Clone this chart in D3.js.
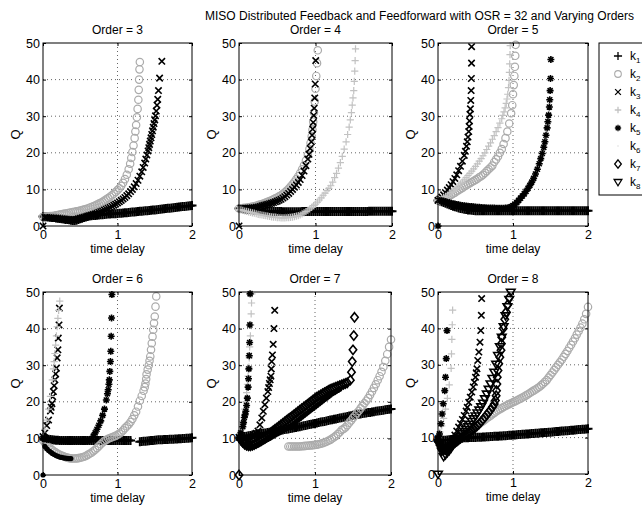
<!DOCTYPE html>
<html>
<head>
<meta charset="utf-8">
<script src="https://cdn.jsdelivr.net/npm/d3@7"></script>
<style>
  body { margin: 0; background: #fff; }
  svg { display: block; }
</style>
</head>
<body>
<svg id="fig" width="642" height="506"></svg>
<script>
// ---------------------------------------------------------------------------
// Data: optimal gains Q versus time delay, one group per modulator order.
// Each gain series is a list of Q values on the shared time grid (null = no
// point), optionally followed by extra [t, Q] points where the curve blows up.
// ---------------------------------------------------------------------------
const tGrid = [
  0, 0.025, 0.05, 0.075, 0.1, 0.125, 0.15, 0.175, 0.2, 0.225,
  0.25, 0.275, 0.3, 0.325, 0.35, 0.375, 0.4, 0.425, 0.45, 0.475,
  0.5, 0.525, 0.55, 0.575, 0.6, 0.625, 0.65, 0.675, 0.7, 0.725,
  0.75, 0.775, 0.8, 0.825, 0.85, 0.875, 0.9, 0.925, 0.95, 0.975,
  1, 1.025, 1.05, 1.075, 1.1, 1.125, 1.15, 1.175, 1.2, 1.225,
  1.25, 1.275, 1.3, 1.325, 1.35, 1.375, 1.4, 1.425, 1.45, 1.475,
  1.5, 1.525, 1.55, 1.575, 1.6, 1.625, 1.65, 1.675, 1.7, 1.725,
  1.75, 1.775, 1.8, 1.825, 1.85, 1.875, 1.9, 1.925, 1.95, 1.975,
  2
];

const xTicks = [0, 1, 2];
const yTicks = [0, 10, 20, 30, 40, 50];
const orders = [3, 4, 5, 6, 7, 8];
const gainNames = ["k1", "k2", "k3", "k4", "k5", "k6", "k7", "k8"];
const mainTitle = "MISO Distributed Feedback and Feedforward with OSR = 32 and Varying Orders";
const xLabel = "time delay";
const yLabel = "Q";

// ----- Order 3 -----
const o3_k1 = [
  2.6,2.55,2.5,2.45,2.4,2.35,2.3,2.2,2.1,2.05,
  2.0,1.9,1.8,1.75,1.7,1.6,1.5,1.5,1.6,1.8,
  2.0,2.15,2.3,2.45,2.6,2.7,2.8,2.85,2.9,2.95,
  3.0,3.05,3.1,3.15,3.2,3.25,3.3,3.32,3.35,3.38,
  3.4,3.45,3.5,3.55,3.6,3.65,3.7,3.75,3.8,3.85,
  3.9,3.95,4.0,4.05,4.1,4.15,4.2,4.25,4.3,4.35,
  4.4,4.46,4.52,4.58,4.64,4.7,4.76,4.82,4.88,4.94,
  5.0,5.06,5.12,5.18,5.24,5.3,5.36,5.42,5.48,5.54,
  5.6];
const o3_k2 = [
  2.5,2.55,2.6,2.65,2.7,2.75,2.8,2.9,3.0,3.1,
  3.2,3.3,3.4,3.5,3.6,3.7,3.8,3.9,4.0,4.1,
  4.2,4.35,4.5,4.65,4.8,5.0,5.2,5.4,5.6,5.85,
  6.1,6.35,6.6,6.95,7.3,7.65,8.0,8.4,8.8,9.3,
  9.8,10.3,11.0,11.8,12.8,14.0,15.5];
const o3_k2_tail = [[1.17,17],[1.185,18.6],[1.2,20.2],[1.215,22],[1.23,24],[1.24,25.8],[1.25,27.6],[1.26,29.7],[1.27,32],[1.28,34.5],[1.285,37.2],[1.29,40],[1.295,42.8],[1.3,44.8]];
const o3_k3 = [
  0,2.35,2.3,2.28,2.25,2.2,2.15,2.1,2.05,2.0,
  1.95,1.9,1.85,1.8,1.75,1.72,1.7,1.72,1.8,1.95,
  2.1,2.25,2.4,2.55,2.7,2.85,3.0,3.15,3.3,3.5,
  3.7,3.9,4.1,4.35,4.6,4.85,5.1,5.4,5.7,6.0,
  6.3,6.65,7.0,7.4,7.8,8.3,8.8,9.4,10.0,10.7,
  11.6,12.5,13.6,14.8];
const o3_k3_tail = [[1.345,16],[1.365,17.2],[1.38,18.3],[1.395,19.4],[1.41,20.5],[1.42,21.4],[1.43,22.3],[1.44,23.2],[1.45,24.1],[1.46,25],[1.47,26],[1.48,27],[1.49,28],[1.5,29],[1.51,30.1],[1.52,31.4],[1.53,33],[1.54,34.6],[1.55,37],[1.565,40.4],[1.595,45]];

// ----- Order 4 -----
const o4_k1 = [
  4.8,4.75,4.7,4.65,4.6,4.55,4.5,4.45,4.4,4.35,
  4.3,4.25,4.2,4.15,4.1,4.06,4.03,4.0,3.98,3.96,
  3.95,3.94,3.93,3.92,3.92,3.92,3.92,3.92,3.92,3.92,
  3.92,3.92,3.92,3.93,3.93,3.93,3.93,3.93,3.94,3.94,
  3.94,3.94,3.94,3.95,3.95,3.95,3.95,3.95,3.96,3.96,
  3.96,3.96,3.96,3.97,3.97,3.97,3.97,3.97,3.98,3.98,
  3.98,3.98,3.98,3.99,3.99,3.99,3.99,3.99,4.0,4.0,
  4.0,4.0,4.0,4.01,4.01,4.01,4.01,4.01,4.02,4.02,
  4.02];
const o4_k2 = [
  4.8,4.85,4.9,4.95,5.0,5.1,5.2,5.3,5.4,5.55,
  5.7,5.85,6.0,6.2,6.4,6.6,6.8,7.05,7.3,7.55,
  7.8,8.1,8.4,8.8,9.2,9.7,10.2,10.8,11.4,12.1,
  12.8,13.6,14.5,15.5,16.6,17.9,19.4];
const o4_k2_tail = [[0.92,21],[0.935,22.7],[0.95,24.5],[0.96,26.3],[0.97,28.5],[0.98,31],[0.99,34],[1.0,37.5],[1.01,41],[1.02,44.5],[1.03,48]];
const o4_k3 = [
  0,4.8,4.8,4.82,4.85,4.88,4.9,4.95,5.0,5.1,
  5.2,5.35,5.5,5.65,5.8,5.95,6.1,6.25,6.4,6.6,
  6.8,7.05,7.3,7.65,8.0,8.45,8.9,9.45,10.0,10.6,
  11.2,11.9,12.7,13.8,15.0,16.5,18.3];
const o4_k3_tail = [[0.915,19.6],[0.93,21.2],[0.945,23],[0.955,24.8],[0.963,26.5],[0.97,28.3],[0.977,30.2],[0.983,32.2],[0.99,35],[0.996,38.8],[1.003,45.2]];
const o4_k4 = [
  4.5,4.4,4.25,4.1,4.0,3.85,3.7,3.6,3.5,3.35,
  3.2,3.1,3.0,2.9,2.8,2.7,2.6,2.5,2.45,2.4,
  2.3,2.25,2.2,2.2,2.2,2.25,2.3,2.35,2.4,2.55,
  2.7,2.85,3.0,3.3,3.6,3.95,4.3,4.7,5.1,5.55,
  6.0,6.5,7.1,7.7,8.4,9.0,9.7,10.3,11.0,12.0,
  13.2,14.4,15.8,17.3,19.0];
const o4_k4_tail = [[1.375,21],[1.4,23],[1.42,25],[1.44,27],[1.455,29],[1.47,31],[1.48,33],[1.49,35],[1.5,37],[1.507,39.5],[1.513,42.3],[1.518,45.2],[1.523,48.4]];

// ----- Order 5 -----
const o5_k1 = [
  7.0,6.8,6.6,6.4,6.2,6.0,5.8,5.6,5.4,5.25,
  5.1,4.95,4.8,4.7,4.6,4.5,4.4,4.35,4.3,4.25,
  4.2,4.2,4.2,4.2,4.2,4.2,4.2,4.2,4.2,4.2,
  4.2,4.2,4.2,4.2,4.2,4.2,4.2,4.2,4.2,4.2,
  4.2,4.2,4.2,4.2,4.2,4.2,4.2,4.2,4.2,4.2,
  4.2,4.2,4.2,4.2,4.2,4.2,4.2,4.2,4.2,4.2,
  4.2,4.2,4.2,4.2,4.2,4.2,4.2,4.2,4.2,4.2,
  4.2,4.2,4.2,4.2,4.2,4.2,4.2,4.2,4.2,4.2,
  4.2];
const o5_k2 = [
  7.0,7.1,7.3,7.5,7.7,7.9,8.2,8.5,8.8,9.1,
  9.5,9.8,10.1,10.4,10.8,11.1,11.4,11.7,12.0,12.3,
  12.6,12.9,13.3,13.6,14.0,14.5,15.0,15.5,16.0,16.5,
  17.5,18.2,19.0,20.0,21.0,22.4,24.0,25.8,28.0,30.8];
const o5_k2_tail = [[0.99,33],[1.0,36],[1.01,38.5],[1.018,41],[1.025,43.5],[1.03,46.5],[1.035,49.5]];
const o5_k3 = [
  7.0,7.4,7.9,8.5,9.1,9.8,10.5,11.3,12.1,13.0,
  14.0,15.1,16.3,17.7,19.3];
const o5_k3_tail = [[0.365,20.4],[0.38,21.8],[0.39,23],[0.4,24.3],[0.41,25.8],[0.415,27.2],[0.42,28.7],[0.426,30.5],[0.432,32],[0.437,34.3],[0.442,37],[0.445,40.3],[0.447,44.5],[0.448,49]];
const o5_k4 = [
  7.0,7.2,7.5,7.8,8.1,8.4,8.8,9.2,9.6,10.0,
  10.5,11.0,11.5,12.0,12.6,13.2,13.8,14.4,15.0,15.6,
  16.3,17.0,17.7,18.4,19.2,20.0,20.9,21.8,22.7,23.7,
  24.7,25.8,26.9,28.1,29.3];
const o5_k4_tail = [[0.865,30.2],[0.88,31.2],[0.895,32.3],[0.91,33.5],[0.92,34.7],[0.93,36],[0.94,37.8],[0.947,39.8],[0.952,42],[0.956,44.3],[0.96,46.8],[0.963,49.3]];
const o5_k5 = [
  0,7.0,6.9,6.8,6.6,6.5,6.35,6.2,6.1,6.0,
  5.9,5.8,5.7,5.6,5.5,5.45,5.4,5.35,5.3,5.25,
  5.2,5.15,5.1,5.05,5.0,5.0,4.95,4.95,4.9,4.9,
  4.9,4.85,4.85,4.85,4.85,4.85,4.9,4.95,5.05,5.3,
  5.6,6.0,6.4,7.0,7.6,8.2,8.8,9.5,10.3,11.1,
  12.0,13.0,14.2,15.5,17.0];
const o5_k5_tail = [[1.37,18.4],[1.39,19.8],[1.41,21.5],[1.425,23],[1.44,24.8],[1.455,26.8],[1.465,28.5],[1.475,30.3],[1.485,32.5],[1.49,34.5],[1.495,37],[1.5,40.3],[1.505,45.5]];

// ----- Order 6 -----
const o6_k1 = [
  10.3,10.1,9.9,9.8,9.7,9.6,9.55,9.5,9.5,9.45,
  9.45,9.4,9.4,9.4,9.4,9.4,9.4,9.4,9.4,9.4,
  9.4,9.4,9.4,9.4,9.4,9.4,9.4,9.4,9.4,9.4,
  9.4,9.4,9.4,9.4,9.4,9.4,9.4,9.4,9.4,9.4,
  9.4,9.4,9.4,9.4,9.4,9.4,9.4,9.4,null,null,
  null,null,9.1,9.15,9.2,9.25,9.3,9.35,9.4,9.45,
  9.5,9.55,9.6,9.62,9.65,9.68,9.7,9.72,9.75,9.78,
  9.8,9.83,9.86,9.9,9.93,9.96,10.0,10.03,10.06,10.1,
  10.15];
const o6_k2 = [
  9.5,8.8,8.2,7.7,7.2,6.8,6.4,6.1,5.8,5.55,
  5.3,5.1,4.9,4.75,4.6,4.55,4.5,4.5,4.55,4.6,
  4.7,4.85,5.0,5.2,5.5,5.8,6.1,6.5,6.9,7.4,
  7.9,8.4,8.9,9.3,9.6,9.9,10.1,10.3,10.5,10.7,
  11.0,11.3,11.7,12.2,12.8,13.3,13.8,14.5,15.3,16.3,
  17.3,18.7,20.3,21.6,23.0];
const o6_k2_tail = [[1.365,24],[1.375,25],[1.385,26.2],[1.39,27.5],[1.405,28.8],[1.42,30],[1.43,31.2],[1.44,32.4],[1.45,34.2],[1.46,36],[1.47,37.8],[1.48,39.7],[1.49,41.5],[1.5,43.3],[1.51,46],[1.52,48.8]];
const o6_k3 = [10.5,11.5,13.5,15,17.5];
const o6_k3_tail = [[0.11,18.5],[0.12,19.5],[0.13,21.4],[0.14,22.8],[0.15,24.4],[0.16,26],[0.17,27.6],[0.18,29.2],[0.19,32],[0.2,34.2],[0.205,37.4],[0.215,41],[0.22,45.6]];
const o6_k4 = [10.5,12.5,15,18,21.5,26];
const o6_k4_tail = [[0.14,29],[0.15,31],[0.16,33.2],[0.17,35.5],[0.18,38],[0.19,40.5],[0.2,42.8],[0.21,45],[0.225,47.5]];
const o6_k5 = [
  10.0,9.9,9.8,9.7,9.6,9.55,9.5,9.45,9.4,9.4,
  9.35,9.35,9.3,9.3,9.3,9.3,9.3,9.3,9.3,9.3,
  9.3,9.3,9.3,9.3,9.4,9.5,9.6,10.6,11.5,12.5,
  13.6,14.8,16.3,18.0,20.5];
const o6_k5_tail = [[0.865,22.2],[0.875,23.3],[0.885,24.8],[0.89,26],[0.897,28.3],[0.905,31],[0.91,33.8],[0.915,37.9],[0.92,42.9],[0.925,49.3]];
const o6_k6 = [
  0,7.8,7.2,6.7,6.3,5.9,5.6,5.3,5.1,4.9,
  4.8,4.7,4.6,4.55,4.5,4.5];

// ----- Order 7 -----
const o7_k1 = [
  10.2,10.3,10.4,10.5,10.6,10.7,10.8,10.9,11.0,11.1,
  11.2,11.3,11.35,11.45,11.5,11.6,11.65,11.75,11.8,11.9,
  12.0,12.1,12.2,12.3,12.4,12.5,12.6,12.7,12.8,12.9,
  13.0,13.1,13.2,13.35,13.45,13.55,13.65,13.8,13.9,14.0,
  14.1,14.2,14.35,14.45,14.55,14.65,14.75,14.9,15.0,15.1,
  15.2,15.3,15.45,15.55,15.65,15.75,15.85,16.0,16.1,16.2,
  16.3,16.4,16.5,16.6,16.7,16.8,16.85,16.95,17.05,17.1,
  17.2,17.3,17.4,17.5,17.55,17.65,17.7,17.8,17.9,17.95,
  18.0];
const o7_k2 = [
  null,null,null,null,null,null,null,null,null,null,
  null,null,null,null,null,null,null,null,null,null,
  null,null,null,null,null,null,7.8,7.8,7.8,7.8,
  7.8,7.8,7.8,7.85,7.9,7.95,8.0,8.05,8.1,8.15,
  8.2,8.3,8.4,8.55,8.7,8.9,9.1,9.35,9.6,9.95,
  10.3,10.7,11.2,11.7,12.3,12.6,13.0,13.6,14.3,14.9,
  15.6,16.2,16.9,17.5,18.2,18.9,19.6,20.3,21.0,21.9,
  22.8,23.8,24.8,25.9,27.0,28.2,29.5,31.2,33.0,35.0,
  37.0];
const o7_k3 = [
  10.3,10.2,10.1,10.05,10.0,10.0,10.1,10.4,10.8,11.4,
  12.0,13.7,15.6];
const o7_k3_tail = [[0.32,17.4],[0.34,19.2],[0.36,21],[0.38,22.8],[0.39,23.9],[0.4,25],[0.41,26],[0.42,27],[0.425,29],[0.43,31],[0.44,32.8],[0.45,35.7],[0.46,40],[0.47,45]];
const o7_k4 = [10.3,12,14.5,18];
const o7_k4_tail = [[0.09,20],[0.1,22.5],[0.11,24.8],[0.12,27],[0.13,29.5],[0.135,32],[0.14,35],[0.15,38],[0.155,41],[0.16,44],[0.165,47],[0.17,49.5]];
const o7_k5 = [10.3,11.5,13.2];
const o7_k5_tail = [[0.06,14.3],[0.07,15.7],[0.08,16.5],[0.09,17.4],[0.1,19],[0.11,21],[0.12,24],[0.125,26.3],[0.13,29],[0.135,32.6],[0.14,36.2],[0.143,41],[0.146,49.5]];
const o7_k6 = [
  10.0,9.2,8.5,8.0,7.7,7.6,7.6,7.7,7.8,8.0,
  8.2,8.5,8.8,9.1,9.4,9.7,10.0,10.3,10.6,10.9,
  11.2,11.5,11.8,12.1,12.4,12.7,13.0,13.4,13.8,14.2,
  14.6,15.0,15.4,15.8,16.2,16.6,17.0,17.4,17.8,18.2,
  18.6,19.0,19.4,19.8,20.2,20.6,21.0,21.4,21.8,22.2,
  22.5,22.8,23.1,23.4];
const o7_k7 = [
  0,9.6,8.9,8.4,8.1,8.0,8.0,8.1,8.3,8.6,
  8.9,9.3,9.7,10.1,10.5,10.9,11.3,11.7,12.1,12.5,
  12.9,13.3,13.7,14.1,14.5,14.9,15.3,15.7,16.1,16.5,
  16.9,17.3,17.7,18.1,18.5,18.9,19.3,19.7,20.1,20.5,
  20.9,21.3,21.6,21.9,22.2,22.5,22.8,23.1,23.4,23.6,
  23.8,24.0,24.2,24.4,24.6,24.8,25.0,25.2];
const o7_k7_tail = [[1.465,25.9],[1.48,28.1],[1.49,31],[1.5,34.2],[1.51,38.1],[1.52,43.1]];

// ----- Order 8 -----
const o8_k1 = [
  9.5,9.4,9.35,9.3,9.3,9.35,9.4,9.5,9.6,9.7,
  9.8,9.85,9.9,9.92,9.94,9.96,9.98,10.0,10.02,10.04,
  10.06,10.08,10.1,10.13,10.16,10.19,10.22,10.25,10.28,10.31,
  10.34,10.37,10.4,10.43,10.46,10.5,10.54,10.58,10.62,10.66,
  10.7,10.74,10.78,10.82,10.86,10.9,10.94,10.98,11.02,11.06,
  11.1,11.14,11.18,11.22,11.26,11.3,11.34,11.38,11.42,11.46,
  11.5,11.55,11.6,11.65,11.7,11.74,11.78,11.82,11.86,11.9,
  11.95,12.0,12.05,12.1,12.15,12.2,12.24,12.28,12.32,12.36,
  12.4];
const o8_k2 = [
  null,null,null,null,null,null,null,null,null,null,
  null,null,10.6,10.9,11.2,11.55,11.9,12.2,12.5,12.8,
  13.1,13.45,13.8,14.15,14.5,14.9,15.3,15.65,16.0,16.4,
  16.8,17.15,17.5,17.8,18.1,18.4,18.7,18.95,19.2,19.45,
  19.7,19.95,20.2,20.45,20.7,21.0,21.3,21.6,21.9,22.25,
  22.6,22.9,23.2,23.55,23.9,24.35,24.8,25.3,25.8,26.5,
  27.2,27.9,28.6,29.3,30.0,30.7,31.4,32.2,33.0,33.8,
  34.7,35.5,36.4,37.3,38.3,39.2,40.2,41.3,42.5,44.0,
  45.9];
const o8_k3 = [
  9.5,8.5,7.5,6.8,6.8,7.2,7.8,8.6,9.6,10.7,
  11.8,12.9,13.9,15.0,16.1,17.3];
const o8_k3_tail = [[0.39,18.3],[0.41,19.7],[0.43,21.1],[0.45,22.5],[0.47,23.9],[0.485,25.2],[0.5,26.6],[0.51,27.8],[0.52,28.9],[0.53,31.2],[0.545,33.5],[0.56,36.2],[0.57,39.4],[0.578,43.6],[0.582,48.2]];
const o8_k4 = [10,11.5,13.2,15.3,17.8,20.8,24.5,29];
const o8_k4_tail = [[0.18,33],[0.185,37],[0.19,41],[0.195,45]];
const o8_k5 = [10];
const o8_k5_tail = [[0.02,11],[0.04,13.8],[0.055,16.5],[0.07,19.3],[0.09,22.9],[0.1,26.6],[0.11,31.7],[0.12,39.4]];
const o8_k6 = [
  9.5,8.5,7.5,6.6,6.0,6.2,6.7,7.4,8.1,8.7,
  9.2,9.6];
const o8_k7 = [
  9.0,8.0,7.2,6.8,6.8,7.0,7.4,7.8,8.2,8.6,
  9.0,9.4,9.8,10.15,10.5,10.85,11.2,11.6,12.0,12.4,
  12.8,13.3,13.8,14.4,15.0,15.6,16.3,16.9,17.6,18.4,
  19.2];
const o8_k7_tail = [[0.765,20.2],[0.775,21.5],[0.78,22.9],[0.785,24.7],[0.79,26.6],[0.8,28.4],[0.81,30.3],[0.825,32.1],[0.84,34],[0.845,35.8],[0.85,37.6],[0.87,40],[0.89,42.5],[0.91,44.5],[0.93,46.5],[0.95,48.5]];
const o8_k8 = [
  0,8.0,6.3,4.8,5.3,5.9,6.5,7.2,8.0,8.6,
  9.2,9.8,10.4,11.1,11.7,12.3,13.0,13.7,14.5,15.2,
  16.0,16.8,17.6,18.5,19.5,20.7,22.0,23.3,24.8,26.3,
  28.0,30.2,32.6,35.0,37.6,40.5,43.5,46.0,48.0];
const o8_k8_tail = [[0.97,50]];

// Series per order, in plotting order (gain name, grid values, extra points)
const seriesByOrder = {
  3: [["k1", o3_k1, []], ["k2", o3_k2, o3_k2_tail], ["k3", o3_k3, o3_k3_tail]],
  4: [["k1", o4_k1, []], ["k2", o4_k2, o4_k2_tail], ["k3", o4_k3, o4_k3_tail], ["k4", o4_k4, o4_k4_tail]],
  5: [["k1", o5_k1, []], ["k2", o5_k2, o5_k2_tail], ["k3", o5_k3, o5_k3_tail], ["k4", o5_k4, o5_k4_tail], ["k5", o5_k5, o5_k5_tail]],
  6: [["k1", o6_k1, []], ["k2", o6_k2, o6_k2_tail], ["k3", o6_k3, o6_k3_tail], ["k4", o6_k4, o6_k4_tail], ["k5", o6_k5, o6_k5_tail], ["k6", o6_k6, []]],
  7: [["k1", o7_k1, []], ["k2", o7_k2, []], ["k3", o7_k3, o7_k3_tail], ["k4", o7_k4, o7_k4_tail], ["k5", o7_k5, o7_k5_tail], ["k6", o7_k6, []], ["k7", o7_k7, o7_k7_tail]],
  8: [["k1", o8_k1, []], ["k2", o8_k2, []], ["k3", o8_k3, o8_k3_tail], ["k4", o8_k4, o8_k4_tail], ["k5", o8_k5, o8_k5_tail], ["k6", o8_k6, []], ["k7", o8_k7, o8_k7_tail], ["k8", o8_k8, o8_k8_tail]]
};

// ---------------------------------------------------------------------------
// Layout and styling
// ---------------------------------------------------------------------------
const FONT = '"Liberation Sans", Arial, Helvetica, sans-serif';
const panelBoxes = [
  { left: 43,  right: 192, top: 43,  bottom: 226 },
  { left: 239, right: 392, top: 43,  bottom: 226 },
  { left: 438, right: 588, top: 43,  bottom: 226 },
  { left: 43,  right: 192, top: 292, bottom: 475 },
  { left: 239, right: 391, top: 292, bottom: 475 },
  { left: 438, right: 588, top: 292, bottom: 474 }
];

const shapes = {
  plus:  s => `M${-s},0H${s}M0,${-s}V${s}`,
  cross: s => `M${-s},${-s}L${s},${s}M${-s},${s}L${s},${-s}`,
  star:  s => { const d = s * 0.72; return `M${-s},0H${s}M0,${-s}V${s}M${-d},${-d}L${d},${d}M${-d},${d}L${d},${-d}`; },
  diamond: s => `M0,${-s * 1.25}L${s},0L0,${s * 1.25}L${-s},0Z`,
  tridown: s => `M${-s},${-s * 0.65}L${s},${-s * 0.65}L0,${s}Z`
};

const gainStyle = {
  k1: { shape: "plus",    size: 4.5, stroke: "#000",    width: 2.0 },
  k2: { shape: "circle",  size: 3.7, stroke: "#ababab", width: 1.2 },
  k3: { shape: "cross",   size: 3.2, stroke: "#000",    width: 1.6 },
  k4: { shape: "plus",    size: 3.6, stroke: "#c2c2c2", width: 1.2 },
  k5: { shape: "star",    size: 3.5, stroke: "#000",    width: 1.6 },
  k6: { shape: "dot",     size: 2.6, stroke: "#000",    width: 0 },
  k7: { shape: "diamond", size: 3.7, stroke: "#000",    width: 1.6 },
  k8: { shape: "tridown", size: 4.3, stroke: "#000",    width: 1.6 }
};

const svg = d3.select("#fig");
svg.append("rect").attr("width", 642).attr("height", 506).attr("fill", "#fff");

function toPoints(grid, tail) {
  const pts = [];
  grid.forEach((q, i) => { if (q !== null) pts.push([tGrid[i], q]); });
  return pts.concat(tail);
}

function drawMarkers(g, pts, key, x, y) {
  const st = gainStyle[key];
  const layer = g.append("g").attr("class", "series-" + key);
  if (st.shape === "circle" || st.shape === "dot") {
    layer.selectAll("circle").data(pts).join("circle")
      .attr("cx", d => x(d[0])).attr("cy", d => y(d[1]))
      .attr("r", st.size)
      .attr("fill", st.shape === "dot" ? st.stroke : "none")
      .attr("stroke", st.shape === "dot" ? "none" : st.stroke)
      .attr("stroke-width", st.width);
  } else {
    const dPath = shapes[st.shape](st.size);
    layer.selectAll("path").data(pts).join("path")
      .attr("d", dPath)
      .attr("transform", d => `translate(${x(d[0])},${y(d[1])})`)
      .attr("fill", "none")
      .attr("stroke", st.stroke)
      .attr("stroke-width", st.width)
      .attr("stroke-linejoin", "miter");
  }
}

// Figure title
svg.append("text")
  .attr("x", 205).attr("y", 20)
  .attr("font-family", FONT).attr("font-size", 12)
  .text(mainTitle);

orders.forEach((order, idx) => {
  const box = panelBoxes[idx];
  const x = d3.scaleLinear().domain([xTicks[0], xTicks[xTicks.length - 1]]).range([box.left, box.right]);
  const y = d3.scaleLinear().domain([yTicks[0], yTicks[yTicks.length - 1]]).range([box.bottom, box.top]);
  const g = svg.append("g").attr("class", "panel-" + order);

  // dotted grid
  const grid = g.append("g").attr("stroke", "#555").attr("stroke-width", 0.9).attr("stroke-dasharray", "1,3");
  grid.selectAll("line.h").data(yTicks.slice(1, -1)).join("line").attr("class", "h")
    .attr("x1", box.left).attr("x2", box.right)
    .attr("y1", d => y(d)).attr("y2", d => y(d));
  grid.selectAll("line.v").data(xTicks.slice(1, -1)).join("line").attr("class", "v")
    .attr("y1", box.top).attr("y2", box.bottom)
    .attr("x1", d => x(d)).attr("x2", d => x(d));

  // data
  seriesByOrder[order].forEach(([key, values, tail]) => {
    drawMarkers(g, toPoints(values, tail), key, x, y);
  });

  // frame
  g.append("rect")
    .attr("x", box.left).attr("y", box.top)
    .attr("width", box.right - box.left).attr("height", box.bottom - box.top)
    .attr("fill", "none").attr("stroke", "#000").attr("stroke-width", 1);

  // axes with inward ticks
  const styleAxis = sel => {
    sel.select(".domain").remove();
    sel.selectAll(".tick line").attr("stroke", "#000");
    sel.selectAll(".tick text").attr("font-family", FONT).attr("font-size", 12.5).attr("fill", "#000");
  };
  g.append("g").attr("transform", `translate(0,${box.bottom})`)
    .call(d3.axisBottom(x).tickValues(xTicks).tickSize(-3).tickPadding(4).tickFormat(d3.format("d")))
    .call(styleAxis);
  g.append("g").attr("transform", `translate(${box.left},0)`)
    .call(d3.axisLeft(y).tickValues(yTicks).tickSize(-3).tickPadding(3).tickFormat(d3.format("d")))
    .call(styleAxis);
  g.append("g").attr("transform", `translate(0,${box.top})`)
    .call(d3.axisTop(x).tickValues(xTicks).tickSize(-3).tickFormat(""))
    .call(styleAxis);
  g.append("g").attr("transform", `translate(${box.right},0)`)
    .call(d3.axisRight(y).tickValues(yTicks).tickSize(-3).tickFormat(""))
    .call(styleAxis);

  // labels
  const cx = (box.left + box.right) / 2;
  g.append("text").attr("x", cx).attr("y", box.top - 9)
    .attr("text-anchor", "middle").attr("font-family", FONT).attr("font-size", 12)
    .text("Order = " + order);
  g.append("text").attr("x", cx).attr("y", box.bottom + 27)
    .attr("text-anchor", "middle").attr("font-family", FONT).attr("font-size", 12)
    .text(xLabel);
  g.append("text")
    .attr("transform", `translate(${box.left - 23},${(box.top + box.bottom) / 2}) rotate(-90)`)
    .attr("text-anchor", "middle").attr("font-family", FONT).attr("font-size", 13)
    .text(yLabel);
});

// Legend
const legend = svg.append("g").attr("class", "legend");
legend.append("rect")
  .attr("x", 599).attr("y", 43).attr("width", 80).attr("height", 152)
  .attr("fill", "#fff").attr("stroke", "#000").attr("stroke-width", 1);
gainNames.forEach((name, i) => {
  const ry = 56 + i * 18;
  const st = gainStyle[name];
  if (st.shape === "dot") {
    legend.append("circle").attr("cx", 618).attr("cy", ry).attr("r", 0.8).attr("fill", "#ddd");
  } else if (st.shape === "circle") {
    legend.append("circle").attr("cx", 618).attr("cy", ry).attr("r", st.size * 0.9)
      .attr("fill", "none").attr("stroke", st.stroke).attr("stroke-width", 1.1);
  } else {
    legend.append("path").attr("d", shapes[st.shape](st.size * 0.9))
      .attr("transform", `translate(618,${ry})`)
      .attr("fill", "none").attr("stroke", st.stroke).attr("stroke-width", 1.3);
  }
  const t = legend.append("text").attr("x", 630).attr("y", ry + 4)
    .attr("font-family", FONT).attr("font-size", 12).text("k");
  t.append("tspan").attr("font-size", 8).attr("dy", 3).text(name.slice(1));
});
</script>
</body>
</html>
